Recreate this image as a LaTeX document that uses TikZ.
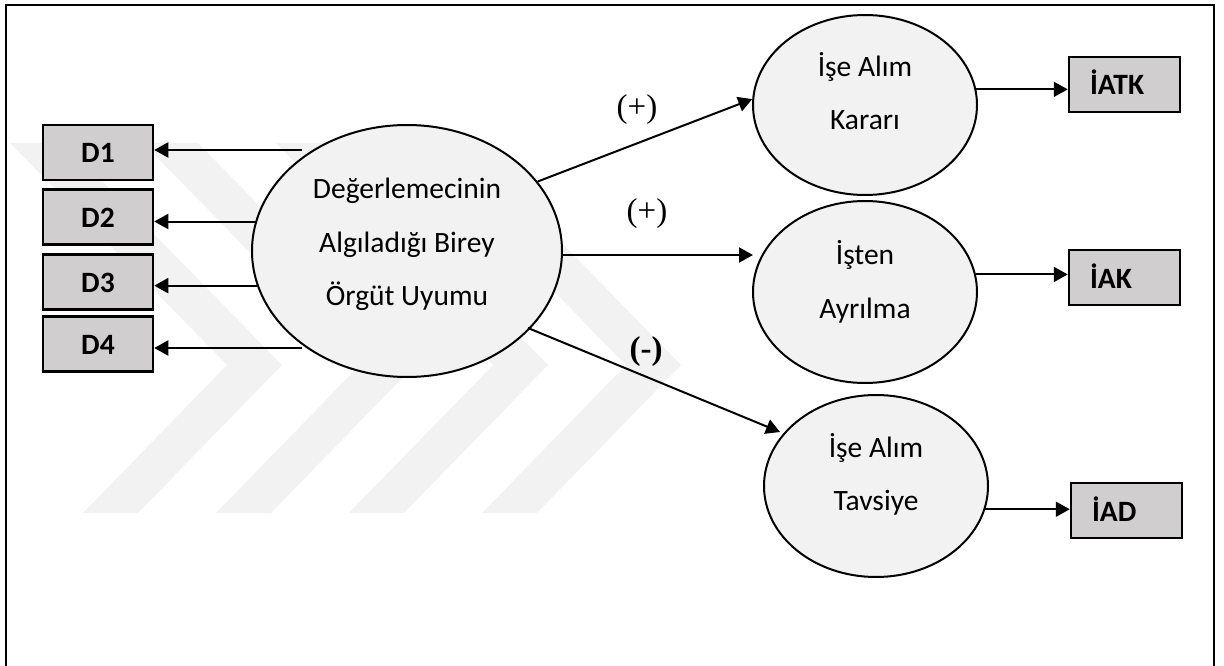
\documentclass[tikz,border=0pt]{standalone}
\usepackage{fontspec}
\setmainfont{Carlito}
\newfontfamily\signfont{Liberation Serif}
\usetikzlibrary{arrows.meta,shapes.geometric}

\definecolor{boxgray}{HTML}{D0CECE}
\definecolor{ovalgray}{HTML}{F2F2F2}
\definecolor{markgray}{HTML}{F2F2F2}

\begin{document}
\begin{tikzpicture}[x=1pt,y=-1pt,
  oval/.style={draw=black, line width=2pt, fill=ovalgray, ellipse, inner sep=0pt},
  dbox/.style={draw=black, line width=2.5pt, fill=boxgray, rectangle,
    minimum width=110pt, minimum height=55pt, inner sep=0pt,
    font=\fontsize{29.5}{34}\selectfont\bfseries, text height=21pt, text depth=0pt},
  rbox/.style={dbox, minimum width=111pt, text width=69pt, inner xsep=21pt, align=left},
  line/.style={anchor=base, inner sep=0pt, font=\fontsize{29.5}{34}\selectfont},
  sign/.style={anchor=base, inner sep=0pt, font=\fontsize{33}{36}\signfont},
  arr/.style={line width=2pt, -{Triangle[length=14pt,width=15pt]}},
  wmark/.style={fill=markgray, draw=none}]

\useasboundingbox (0,0) rectangle (1224,666);

% faint chevron watermark in the background
\foreach \o in {0,133,266,399}{
  \path[wmark] (10+\o,143) -- (227+\o,365) -- (83+\o,513) -- (138+\o,513)
    -- (282+\o,365) -- (65+\o,143) -- cycle;
}

% outer frame
\draw[line width=2.5pt] (6,5) rectangle (1214,690);

% central construct
\node[oval, minimum width=310pt, minimum height=252pt] (main) at (407,251) {};
\node[line] (m1) at (407,198) {Değerlemecinin};
\node[line] (m2) at (407,252) {Algıladığı Birey};
\node[line] (m3) at (407,305) {Örgüt Uyumu};

% outcome constructs
\node[oval, minimum width=224pt, minimum height=180pt] (k1) at (865,105) {};
\node[line] (k1a) at (865,77) {İşe Alım};
\node[line] (k1b) at (865,130) {Kararı};

\node[oval, minimum width=224pt, minimum height=182pt] (k2) at (865,292) {};
\node[line] (k2a) at (865,264) {İşten};
\node[line] (k2b) at (865,318) {Ayrılma};

\node[oval, minimum width=224pt, minimum height=182pt] (k3) at (876,486) {};
\node[line] (k3a) at (876,457) {İşe Alım};
\node[line] (k3b) at (876,510) {Tavsiye};

% indicator boxes
\node[dbox] (d1) at (98,152.5) {D1};
\node[dbox] (d2) at (98,217) {D2};
\node[dbox] (d3) at (98,282) {D3};
\node[dbox] (d4) at (98,344) {D4};

\node[rbox] (atk) at (1124.5,84.5) {İATK};
\node[rbox] (iak) at (1124.5,277.5) {İAK};
\node[rbox] (iad) at (1126.5,510.5) {İAD};

% loadings to the indicators
\coordinate (s1) at (302,150);
\coordinate (s4) at (302,348);
\draw[arr] (s1) -- (s1 -| d1.east);
\draw[arr] (main.169) -- (main.169 -| d2.east);
\draw[arr] (main.193) -- (main.193 -| d3.east);
\draw[arr] (s4) -- (s4 -| d4.east);

% structural paths
\coordinate (h1) at (562,255);
\coordinate (h2) at (753,255);
\coordinate (g1) at (528,328);
\coordinate (g2) at (780,432);
\draw[arr] (main.28) -- (k1.177);
\draw[arr] (h1) -- (h2);
\draw[arr] (g1) -- (g2);

\node[sign] (p1) at (637,118) {(+)};
\node[sign] (p2) at (647,221) {(+)};
\node[sign] (p3) at (646,359) {\bfseries(-)};

% outcome indicators
\draw[arr] (k1.8) -- (k1.8 -| atk.west);
\draw[arr] (k2.9) -- (k2.9 -| iak.west);
\draw[arr] (k3.-12) -- (k3.-12 -| iad.west);
\end{tikzpicture}
\end{document}
